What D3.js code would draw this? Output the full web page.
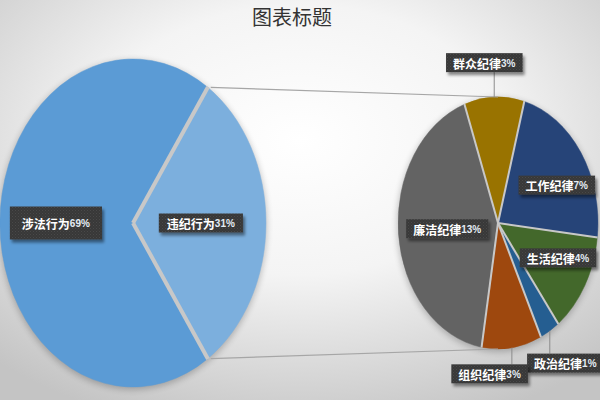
<!DOCTYPE html>
<html>
<head>
<meta charset="utf-8">
<script src="https://cdn.jsdelivr.net/npm/d3@7"></script>
<style>
  html, body { margin: 0; padding: 0; background: #fff; }
  svg { display: block; }
</style>
</head>
<body>
<svg id="chart"></svg>
<script>
// data
const title = '图表标题';
const mainCategories = ['涉法行为', '违纪行为'];
const mainValues = [69, 31];
const subCategories = ['政治纪律', '组织纪律', '廉洁纪律', '群众纪律', '工作纪律', '生活纪律'];
const subValues = [1, 3, 13, 3, 7, 4];

const mainColors = ['#5b9bd5', '#7cafdd'];
const subColors = ['#255e91', '#9e480e', '#636363', '#997300', '#264478', '#43682b'];

// label placement in ellipse units (radius fraction, angle shift in degrees)
const mainLabelAt = { '涉法行为': { r: 0.58, da: 0 }, '违纪行为': { r: 0.51, da: 0 } };
const subLabelAt = {
  '政治纪律': { r: 1.3, da: 0, out: true },
  '组织纪律': { r: 1.2, da: 12, out: true },
  '廉洁纪律': { r: 0.51, da: 0 },
  '群众纪律': { r: 1.28, da: -4, out: true },
  '工作纪律': { r: 0.66, da: 7 },
  '生活纪律': { r: 0.66, da: -5 }
};

const W = 600, H = 400;
const svg = d3.select('#chart').attr('width', W).attr('height', H);
const defs = svg.append('defs');

// background gradient
const bg = defs.append('radialGradient').attr('id', 'bg')
  .attr('cx', '50%').attr('cy', '35%').attr('r', '75%');
bg.append('stop').attr('offset', '0%').attr('stop-color', '#ffffff');
bg.append('stop').attr('offset', '45%').attr('stop-color', '#f4f4f4');
bg.append('stop').attr('offset', '100%').attr('stop-color', '#c4c4c4');
svg.append('rect').attr('width', W).attr('height', H).attr('fill', 'url(#bg)');

// label texture + shadows
const pat = defs.append('pattern').attr('id', 'tex')
  .attr('width', 3).attr('height', 3).attr('patternUnits', 'userSpaceOnUse');
pat.append('rect').attr('width', 3).attr('height', 3).attr('fill', '#383838');
pat.append('rect').attr('width', 1).attr('height', 1).attr('fill', '#4a4a4a');
pat.append('rect').attr('x', 1.5).attr('y', 1.5).attr('width', 1).attr('height', 1).attr('fill', '#444');

defs.append('filter').attr('id', 'lblShadow')
  .attr('x', '-20%').attr('y', '-30%').attr('width', '150%').attr('height', '180%')
  .append('feDropShadow').attr('dx', 2).attr('dy', 3).attr('stdDeviation', 1.5)
  .attr('flood-color', '#000').attr('flood-opacity', 0.45);
defs.append('filter').attr('id', 'pieShadow')
  .attr('x', '-10%').attr('y', '-10%').attr('width', '120%').attr('height', '120%')
  .append('feGaussianBlur').attr('stdDeviation', 3);

// title
svg.append('text')
  .attr('x', 292).attr('y', 25)
  .attr('text-anchor', 'middle')
  .style('font-family', '"Noto Sans CJK SC", sans-serif')
  .style('font-size', '20px')
  .attr('fill', '#333333')
  .text(title);

// geometry of the two (stretched) pies
const main = { cx: 133, cy: 223, rx: 133, ry: 164 };
const sub = { cx: 498, cy: 223, rx: 100, ry: 126 };

const rad = d => d * Math.PI / 180;
const pt = (p, a, r) => [p.cx + p.rx * r * Math.sin(a), p.cy - p.ry * r * Math.cos(a)];

// main pie: second slice centred on 3 o'clock
const mainSpan = 2 * Math.PI * mainValues[1] / d3.sum(mainValues);
const mainStart = Math.PI / 2 + mainSpan / 2;
const mainArcs = d3.pie().sort(null)
  .startAngle(mainStart).endAngle(mainStart + 2 * Math.PI)(mainValues);

// sub pie: 政治纪律 starts at ~143deg
const subStart = rad(143);
const subArcs = d3.pie().sort(null)
  .startAngle(subStart).endAngle(subStart + 2 * Math.PI)(subValues);

const unitArc = d3.arc().innerRadius(0).outerRadius(1);

function drawPie(p, arcs, colors, strokeW) {
  const g = svg.append('g');
  // soft shadow under the pie
  g.append('ellipse')
    .attr('cx', p.cx).attr('cy', p.cy + 2)
    .attr('rx', p.rx + 1).attr('ry', p.ry + 1)
    .attr('fill', '#000').attr('opacity', 0.22)
    .attr('filter', 'url(#pieShadow)');
  g.append('g')
    .attr('transform', `translate(${p.cx},${p.cy}) scale(${p.rx},${p.ry})`)
    .selectAll('path')
    .data(arcs)
    .enter()
    .append('path')
    .attr('d', unitArc)
    .attr('fill', (d, i) => colors[i])
    .attr('stroke', (d, i) => colors[i])
    .attr('stroke-width', 0.5)
    .attr('vector-effect', 'non-scaling-stroke');
  // slice separators
  g.selectAll('line')
    .data(arcs)
    .enter()
    .append('line')
    .attr('x1', p.cx).attr('y1', p.cy)
    .attr('x2', d => pt(p, d.startAngle, 1.003)[0])
    .attr('y2', d => pt(p, d.startAngle, 1.003)[1])
    .attr('stroke', '#c8c8c8')
    .attr('stroke-width', strokeW);
}

drawPie(main, mainArcs, mainColors, 4);
drawPie(sub, subArcs, subColors, 2);

// series lines joining the pies
const vj = mainArcs[1];
const lines = [
  [pt(main, vj.startAngle, 1), pt(sub, 0, 1)],
  [pt(main, vj.endAngle, 1), pt(sub, Math.PI, 1)]
];
svg.selectAll('.series-line')
  .data(lines)
  .enter()
  .append('line')
  .attr('class', 'series-line')
  .attr('x1', d => d[0][0] + 3).attr('y1', d => d[0][1])
  .attr('x2', d => d[1][0]).attr('y2', d => d[1][1])
  .attr('stroke', '#a6a6a6')
  .attr('stroke-width', 1.2);

// data labels
function addLabel(p, arc, name, value, total, place, padX, padY) {
  const mid = (arc.startAngle + arc.endAngle) / 2;
  const a = mid + rad(place.da);
  const [lx, ly] = pt(p, a, place.r);
  const pct = Math.round(value / total * 100) + '%';

  const g = svg.append('g').attr('class', 'data-label');
  const rect = g.append('rect').attr('fill', 'url(#tex)').attr('filter', 'url(#lblShadow)');
  const t = g.append('text')
    .attr('x', lx).attr('y', ly)
    .attr('text-anchor', 'middle')
    .attr('dominant-baseline', 'central')
    .style('font-family', '"Noto Sans CJK SC", sans-serif')
    .style('font-weight', 'bold')
    .style('font-size', '12px')
    .attr('fill', '#ffffff');
  t.append('tspan').text(name);
  t.append('tspan')
    .style('font-family', '"Liberation Sans", sans-serif')
    .style('font-size', '10px')
    .attr('fill', '#e4ecf4')
    .text(pct);
  const bb = t.node().getBBox();
  const box = { x: bb.x - padX, y: bb.y - padY, w: bb.width + 2 * padX, h: bb.height + 2 * padY };
  rect.attr('x', box.x).attr('y', box.y).attr('width', box.w).attr('height', box.h);

  if (place.out) {
    const edge = pt(p, mid, 1);
    const ty = ly > p.cy ? box.y : box.y + box.h;
    const tx = Math.max(box.x + 6, Math.min(box.x + box.w - 6, edge[0]));
    g.insert('line', 'rect')
      .attr('x1', edge[0]).attr('y1', edge[1])
      .attr('x2', tx).attr('y2', ty)
      .attr('stroke', '#8c8c8c')
      .attr('stroke-width', 1);
  }
}

const mainTotal = d3.sum(mainValues);
mainArcs.forEach((arc, i) => {
  const pad = i === 0 ? [12, 8] : [8, 1];
  addLabel(main, arc, mainCategories[i], mainValues[i], mainTotal, mainLabelAt[mainCategories[i]], pad[0], pad[1]);
});
subArcs.forEach((arc, i) => {
  addLabel(sub, arc, subCategories[i], subValues[i], mainTotal, subLabelAt[subCategories[i]], 7, 1);
});
</script>
</body>
</html>
